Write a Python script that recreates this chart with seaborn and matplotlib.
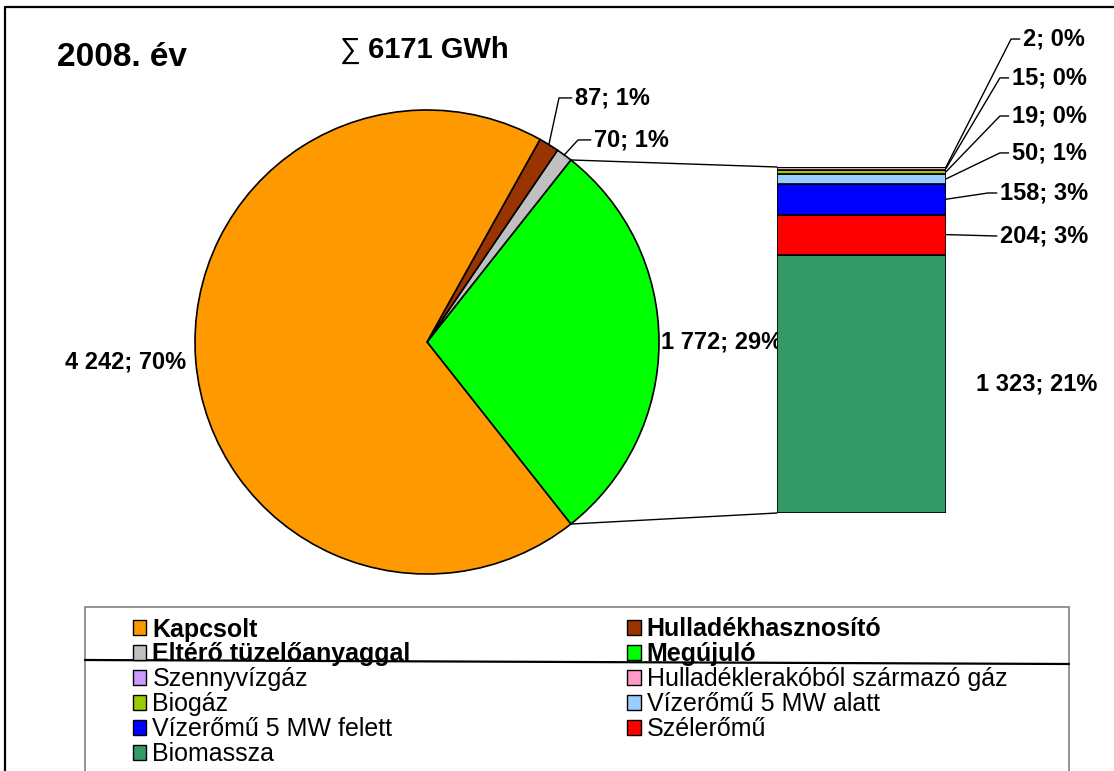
import numpy as np
import matplotlib
matplotlib.use("Agg")
import matplotlib.pyplot as plt
from matplotlib.patches import Patch, Rectangle, ConnectionPatch
from matplotlib.lines import Line2D
import seaborn as sns

# pie: total production 2008, GWh (counter-clockwise from the bar side)
pie_labels = ["Megújuló", "Eltérő tüzelőanyaggal", "Hulladékhasznosító", "Kapcsolt"]
pie_values = [1772, 70, 87, 4242]
pie_pct = [29, 1, 1, 70]
pie_colors = ["#00FF00", "#C0C0C0", "#993300", "#FF9900"]

# bar: breakdown of Megújuló, bottom to top
bar_labels = ["Biomassza", "Szélerőmű", "Vízerőmű 5 MW felett", "Vízerőmű 5 MW alatt",
              "Biogáz", "Hulladéklerakóból származó gáz", "Szennyvízgáz"]
bar_values = [1323, 204, 158, 50, 19, 15, 2]
bar_pct = [21, 3, 3, 1, 0, 0, 0]
bar_colors = ["#339966", "#FF0000", "#0000FF", "#99CCFF", "#99CC00", "#FF99CC", "#CC99FF"]

year_title = "2008. év"
sum_sign = "∑"
sum_title = "6171 GWh"

legend_order = ["Kapcsolt", "Eltérő tüzelőanyaggal", "Szennyvízgáz", "Biogáz",
                "Vízerőmű 5 MW felett", "Biomassza",
                "Hulladékhasznosító", "Megújuló", "Hulladéklerakóból származó gáz",
                "Vízerőmű 5 MW alatt", "Szélerőmű"]

# label placement (layout only)
pie_text_pos = [(1.27, 0.0), (0.72, 0.871), (0.638, 1.052), (-1.30, -0.086)]
bar_text_pos = [(1.038, 660), None, (0.82, 1418), (0.82, 1638), (0.89, 1843),
                (0.89, 2032), (0.89, 2227), (0.956, 2426)]


def fmt(v, p):
    return "{:,}".format(v).replace(",", " ") + "; " + str(p) + "%"


sns.set_theme(style="white")
plt.rcParams["font.family"] = ["Liberation Sans", "DejaVu Sans"]
plt.rcParams["text.color"] = "black"

W, H = 1114, 771
fig = plt.figure(figsize=(W / 100, H / 100), dpi=100)
fig.patch.set_facecolor("white")

# pie axes
cx, cy, r = 427, 342, 232
ax_pie = fig.add_axes([(cx - r) / W, (H - cy - r) / H, 2 * r / W, 2 * r / H])
total = sum(pie_values)
start = -180.0 * pie_values[0] / total
wedges, _ = ax_pie.pie(pie_values, colors=pie_colors, startangle=start, counterclock=True,
                       wedgeprops=dict(edgecolor="black", linewidth=1.2))
ax_pie.set_xlim(-1, 1)
ax_pie.set_ylim(-1, 1)
ax_pie.set_aspect("auto")
ax_pie.axis("off")

lbl_font = dict(fontsize=17, fontweight="bold", color="black")
for i, w in enumerate(wedges):
    txt = fmt(pie_values[i], pie_pct[i])
    tx, ty = pie_text_pos[i]
    if i in (0, 3):
        ax_pie.text(tx, ty, txt, ha="center", va="center", clip_on=False, **lbl_font)
    else:
        mid = np.deg2rad((w.theta1 + w.theta2) / 2)
        ax_pie.annotate(txt, xy=(np.cos(mid), np.sin(mid)), xytext=(tx, ty),
                        ha="left", va="center", annotation_clip=False, **lbl_font,
                        arrowprops=dict(arrowstyle="-", color="black", lw=1, shrinkA=0, shrinkB=0,
                                        relpos=(0, 0.5),
                                        connectionstyle="arc,angleA=180,armA=16,angleB=0,armB=0,rad=0"))

# stacked bar axes
bx0, bx1, by0, by1 = 777, 946, 513, 167
ax_bar = fig.add_axes([bx0 / W, (H - by0) / H, (bx1 - bx0) / W, (by0 - by1) / H])
bottom = 0
mids = []
for v, c in zip(bar_values, bar_colors):
    ax_bar.bar(0, v, bottom=bottom, width=1.0, color=c, edgecolor="black", linewidth=1.2)
    mids.append(bottom + v / 2)
    bottom += v
ax_bar.set_xlim(-0.5, 0.5)
ax_bar.set_ylim(0, sum(bar_values))
ax_bar.axis("off")

for i, v in enumerate(bar_values):
    txt = fmt(v, bar_pct[i])
    if i == 0:
        tx, ty = bar_text_pos[0]
        ax_bar.text(tx, ty, txt, ha="center", va="center", clip_on=False, **lbl_font)
        continue
    tx, ty = bar_text_pos[i + 1]
    ymid = mids[i] if i < 4 else min(mids[i] + 2, sum(bar_values))
    arm = 0 if i == 1 else 7
    ax_bar.annotate(txt, xy=(0.5, ymid), xytext=(tx, ty), ha="left", va="center",
                    annotation_clip=False, **lbl_font,
                    arrowprops=dict(arrowstyle="-", color="black", lw=1, shrinkA=0, shrinkB=0,
                                    relpos=(0, 0.5),
                                    connectionstyle="arc,angleA=180,armA=%d,angleB=0,armB=0,rad=0" % (arm + 5)))

# lines from the Megújuló wedge to the bar
g = wedges[0]
for ang, yb in [(g.theta2, sum(bar_values)), (g.theta1, 0)]:
    a = np.deg2rad(ang)
    con = ConnectionPatch(xyA=(np.cos(a), np.sin(a)), coordsA=ax_pie.transData,
                          xyB=(-0.5, yb), coordsB=ax_bar.transData, color="black", lw=1)
    fig.add_artist(con)

# titles
fig.text(57 / W, 1 - 58 / H, year_title, fontsize=24, fontweight="bold", ha="left", va="center")
fig.text(340 / W, 1 - 50 / H, sum_sign, fontsize=21, ha="left", va="center")
fig.text(368 / W, 1 - 50 / H, sum_title, fontsize=21, fontweight="bold", ha="left", va="center")

# legend
color_map = dict(zip(pie_labels + bar_labels, pie_colors + bar_colors))
handles = [Patch(facecolor=color_map[n], edgecolor="black", linewidth=1) for n in legend_order]
leg = fig.legend(handles, legend_order, ncol=2, loc="upper left",
                 bbox_to_anchor=(110 / W, 1 - 595 / H), frameon=False, fontsize=18,
                 handlelength=0.55, handleheight=0.55, handletextpad=0.25,
                 labelspacing=0.035, columnspacing=8.64, borderpad=0.4)
for t in leg.get_texts():
    t.set_color("black")
    if t.get_text() in pie_labels:
        t.set_fontweight("bold")

fig.add_artist(Rectangle((85 / W, -0.1), (1069 - 85) / W, 0.1 + (H - 607) / H,
                         transform=fig.transFigure, fill=False, edgecolor="#808080", lw=1.2))
fig.add_artist(Line2D([85 / W, 1069 / W], [1 - 660 / H, 1 - 664 / H],
                      transform=fig.transFigure, color="black", lw=1.6))

# outer chart frame (top and left edges visible)
fig.add_artist(Line2D([5 / W, 5 / W, 1.0], [0.0, 1 - 7 / H, 1 - 7 / H],
                      transform=fig.transFigure, color="black", lw=1.6))

fig.savefig("out.png", dpi=100)
